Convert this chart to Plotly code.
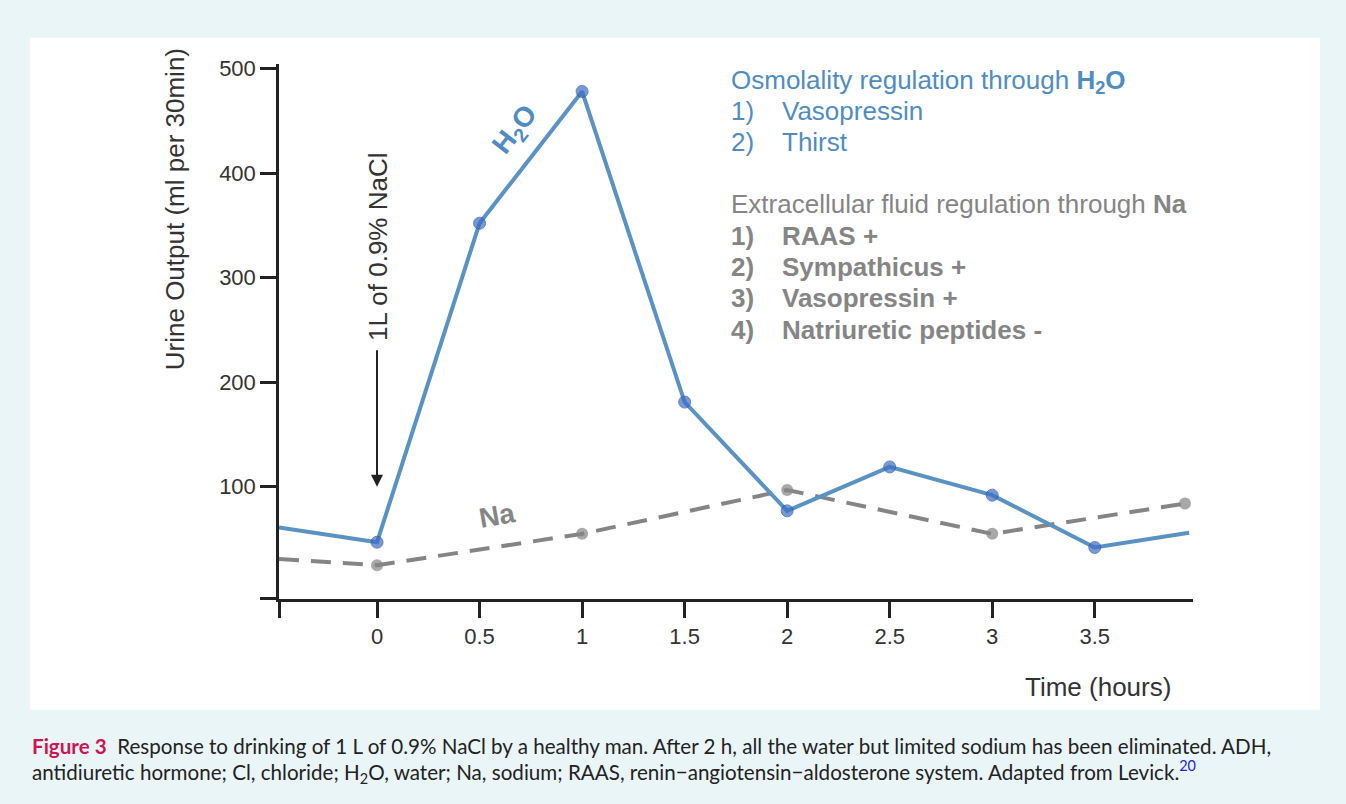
import plotly.graph_objects as go

# ---------------- data ----------------
h2o_t = [-0.478, 0, 0.5, 1, 1.5, 2, 2.5, 3, 3.5, 3.96]
h2o_v = [61, 47, 352, 478, 181, 77, 119, 92, 42, 56]
h2o_marker = [False, True, True, True, True, True, True, True, True, False]

na_t = [-0.478, 0, 1, 2, 3, 3.94]
na_v = [31, 25, 55, 97, 55, 84]
na_marker = [False, True, True, True, True, True]

x_ticks = [0, 0.5, 1, 1.5, 2, 2.5, 3, 3.5]
x_ticklabels = ["0", "0.5", "1", "1.5", "2", "2.5", "3", "3.5"]
y_ticks = [100, 200, 300, 400, 500]
y_ticklabels = ["100", "200", "300", "400", "500"]

XMIN, XMAX = -0.478, 3.979
YMIN, YMAX = -7.1, 504.7

W, H = 1346, 804
def px(x):
    return x / W
def py(y):
    return 1 - y / H

BLUE_LINE = "#5A92C4"
BLUE_TEXT = "#4F8CC3"
BLUE_MARK = "#3D6EC6"
BLUE_MARK_EDGE = "#2B54A0"
GREY = "#858585"
AXIS = "#222222"
FONT = "Liberation Sans, Arial, sans-serif"
BIG = 26

fig = go.Figure()

fig.add_trace(go.Scatter(
    x=na_t, y=na_v, mode="lines+markers",
    line=dict(color=GREY, width=4, dash="20px,12px"),
    marker=dict(size=[12 if m else 0 for m in na_marker], color=GREY,
                line=dict(color=GREY, width=0)),
    showlegend=False, hoverinfo="skip", cliponaxis=False))

fig.add_trace(go.Scatter(
    x=h2o_t, y=h2o_v, mode="lines+markers",
    line=dict(color=BLUE_LINE, width=4),
    marker=dict(size=[12 if m else 0 for m in h2o_marker], color=BLUE_MARK,
                line=dict(color=BLUE_MARK_EDGE, width=1)),
    showlegend=False, hoverinfo="skip", cliponaxis=False))

fig.update_layout(
    width=W, height=H,
    margin=dict(l=0, r=0, t=0, b=0),
    paper_bgcolor="#EAF5F8",
    plot_bgcolor="rgba(0,0,0,0)",
    font=dict(family=FONT, color="#333333"),
    xaxis=dict(
        domain=[px(279), px(1193)], range=[XMIN, XMAX],
        showgrid=False, zeroline=False,
        showline=True, linecolor=AXIS, linewidth=2.5,
        ticks="outside", ticklen=16, tickwidth=2.5, tickcolor=AXIS,
        tickvals=[XMIN] + x_ticks, ticktext=[""] + x_ticklabels,
        tickfont=dict(size=22, color="#333333", family=FONT),
    ),
    yaxis=dict(
        domain=[py(597), py(57)], range=[YMIN, YMAX],
        showgrid=False, zeroline=False,
        showline=True, linecolor=AXIS, linewidth=2.5,
        ticks="outside", ticklen=16, tickwidth=2.5, tickcolor=AXIS,
        tickvals=[YMIN] + y_ticks, ticktext=[""] + y_ticklabels,
        tickfont=dict(size=22, color="#333333", family=FONT),
    ),
    shapes=[dict(type="rect", xref="paper", yref="paper",
                 x0=px(30), x1=px(1320), y0=py(709), y1=py(31),
                 fillcolor="white", line=dict(width=0), layer="below")],
)

ann = []
def text(x, y, s, size=BIG, color="#333333", xanchor="left", angle=0, yanchor="middle"):
    ann.append(dict(xref="paper", yref="paper", x=px(x), y=py(y), text=s,
                    showarrow=False, xanchor=xanchor, yanchor=yanchor,
                    textangle=angle, font=dict(size=size, color=color, family=FONT)))

# axis titles
text(175, 204, "Urine Output (ml per 30min)", xanchor="center", angle=-90)
text(1098, 686, "Time (hours)", xanchor="center")

# NaCl annotation + arrow
text(378, 242, "1L of 0.9% NaCl", xanchor="center", angle=-90)
ann.append(dict(xref="paper", yref="paper", x=px(377), y=py(484),
                ax=0, ay=-138, axref="pixel", ayref="pixel",
                showarrow=True, arrowhead=2, arrowsize=1.2, arrowwidth=2,
                arrowcolor="#222222", text=""))

# series labels
text(516, 125, "<b>H<sub>2</sub>O</b>", size=28, color=BLUE_TEXT, xanchor="center", angle=-52)
text(497, 513, "<b>Na</b>", size=28, color=GREY, xanchor="center", angle=-10)

# right text block
text(729, 75, "Osmolality regulation through <b>H<sub>2</sub>O</b>", color=BLUE_TEXT)
text(729, 105, "1)", color=BLUE_TEXT)
text(780, 105, "Vasopressin", color=BLUE_TEXT)
text(729, 136, "2)", color=BLUE_TEXT)
text(780, 136, "Thirst", color=BLUE_TEXT)

text(729, 199, "Extracellular fluid regulation through <b>Na</b>", color=GREY)
for i, (yy, s) in enumerate([(231, "RAAS +"), (262, "Sympathicus +"),
                              (294, "Vasopressin +"), (326, "Natriuretic peptides -")]):
    text(729, yy, "<b>%d)</b>" % (i + 1), color=GREY)
    text(780, yy, "<b>%s</b>" % s, color=GREY)

# caption
CAP_FONT = "Lato, sans-serif"
ann.append(dict(xref="paper", yref="paper", x=px(30), y=py(745), showarrow=False,
                xanchor="left", yanchor="middle",
                text="<b><span style='color:#CF1550'>Figure 3</span></b>  Response to drinking of 1 L of 0.9% NaCl by a healthy man. After 2 h, all the water but limited sodium has been eliminated. ADH,",
                font=dict(size=20.6, color="#222222", family=CAP_FONT)))
ann.append(dict(xref="paper", yref="paper", x=px(30), y=py(772), showarrow=False,
                xanchor="left", yanchor="middle",
                text="antidiuretic hormone; Cl, chloride; H<sub>2</sub>O, water; Na, sodium; RAAS, renin\u2212angiotensin\u2212aldosterone system. Adapted from Levick.<sup><span style='color:#2222DD'>20</span></sup>",
                font=dict(size=20.6, color="#222222", family=CAP_FONT)))

fig.update_layout(annotations=ann)
fig.write_html("out.html", config={"displayModeBar": False},
               post_script="document.body.style.margin='0';document.body.style.overflow='hidden';")
